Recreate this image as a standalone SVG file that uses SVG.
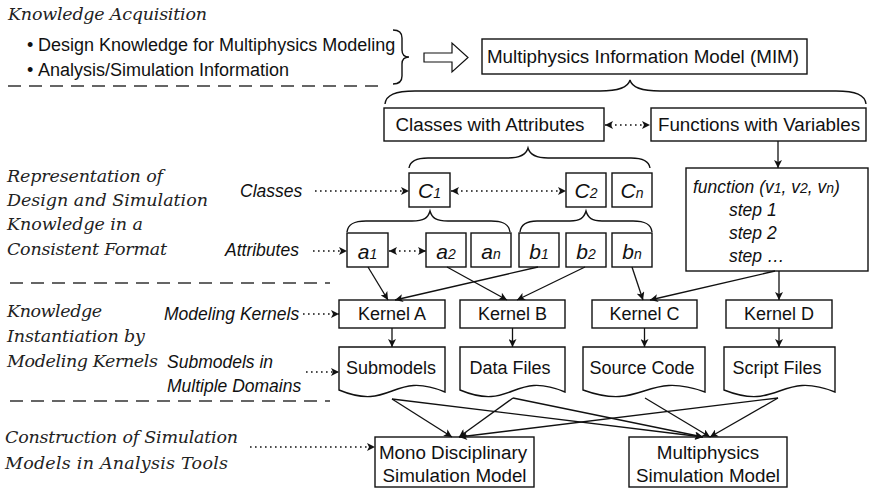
<svg xmlns="http://www.w3.org/2000/svg" width="869" height="489" viewBox="0 0 869 489">
  <style>
    .box { fill: #fff; stroke: #111; stroke-width: 1.4; }
    .ln { fill: none; stroke: #111; stroke-width: 1.3; }
    .dot { fill: none; stroke: #111; stroke-width: 1.4; stroke-dasharray: 1.6 3.4; }
    .dash { fill: none; stroke: #333; stroke-width: 1.3; stroke-dasharray: 13 8; }
    .brace { fill: none; stroke: #111; stroke-width: 1.4; }
    .t { font-family: "Liberation Sans", Arial, sans-serif; font-size: 18px; fill: #111; }
    .tl { font-family: "Liberation Sans", Arial, sans-serif; font-size: 18.8px; fill: #111; }
    .ti { font-family: "Liberation Sans", Arial, sans-serif; font-size: 17.5px; font-style: italic; fill: #111; }
    .var { font-family: "Liberation Sans", Arial, sans-serif; font-size: 21px; font-style: italic; fill: #111; }
    .sub { font-size: 14px; }
    .h { font-family: "DejaVu Serif", "Liberation Serif", serif; font-size: 17.5px; font-style: italic; fill: #222; }
    .m { text-anchor: middle; }
  </style>
  <defs>
    <marker id="ah" viewBox="0 0 10 10" refX="10" refY="5" markerWidth="9" markerHeight="8" markerUnits="userSpaceOnUse" orient="auto-start-reverse">
      <path d="M0,0 L10,5 L0,10 L2.5,5 Z" fill="#111"/>
    </marker>
  </defs>
  <rect width="869" height="489" fill="#fff"/>

  <!-- stage headings -->
  <g id="headings">
    <text class="h" x="8" y="20" textLength="199" lengthAdjust="spacing">Knowledge Acquisition</text>
    <text class="h" x="7" y="182" textLength="156" lengthAdjust="spacing">Representation of</text>
    <text class="h" x="7" y="206" textLength="201" lengthAdjust="spacing">Design and Simulation</text>
    <text class="h" x="7" y="230" textLength="136" lengthAdjust="spacing">Knowledge in a</text>
    <text class="h" x="7" y="255" textLength="160" lengthAdjust="spacing">Consistent Format</text>
    <text class="h" x="7" y="317" textLength="95" lengthAdjust="spacing">Knowledge</text>
    <text class="h" x="7" y="342" textLength="138" lengthAdjust="spacing">Instantiation by</text>
    <text class="h" x="7" y="367" textLength="151" lengthAdjust="spacing">Modeling Kernels</text>
    <text class="h" x="5" y="443" textLength="233" lengthAdjust="spacing">Construction of Simulation</text>
    <text class="h" x="5" y="469" textLength="223" lengthAdjust="spacing">Models in Analysis Tools</text>
  </g>

  <!-- sources of knowledge -->
  <g id="sources">
    <text class="t" x="27" y="51" font-size="13">•</text>
    <text class="t" x="38" y="51" font-size="16.8">Design Knowledge for Multiphysics Modeling</text>
    <text class="t" x="27" y="76" font-size="13">•</text>
    <text class="t" x="38" y="76" font-size="16.8">Analysis/Simulation Information</text>
  </g>

  <!-- stage separators -->
  <g id="separators">
    <line class="dash" x1="8" y1="86" x2="378" y2="86"/>
    <line class="dash" x1="10" y1="283" x2="330" y2="283"/>
    <line class="dash" x1="10" y1="401" x2="330" y2="401"/>
  </g>

  <!-- side labels -->
  <g id="labels">
    <text class="ti" x="240" y="197">Classes</text>
    <text class="ti" x="225" y="256">Attributes</text>
    <text class="ti" x="164" y="320">Modeling Kernels</text>
    <text class="ti" x="167" y="368">Submodels in</text>
    <text class="ti" x="167" y="392">Multiple Domains</text>
  </g>

  <!-- braces -->
  <g id="braces">
    <path class="brace" d="M393,30 C400,30 402,33 402,38 V50 C402,54 404,57 409,57 C404,57 402,60 402,64 V76 C402,81 400,84 393,84"/>
    <path class="brace" d="M385,104 C386,95 395,91 415,91 H600 C618,91 628,88 630,80 C632,88 642,91 660,91 H836 C856,91 865,95 866,104"/>
    <path class="brace" d="M409,168 C410,161 416,158 428,158 H508 C520,158 526,155 528,148 C530,155 536,158 548,158 H631 C643,158 649,161 650,168"/>
    <path class="brace" d="M347,232 C348,224 354,221 366,221 H412 C424,221 428,218 430,211 C432,218 436,221 448,221 H491 C503,221 509,224 510,232"/>
    <path class="brace" d="M520,232 C521,224 527,221 537,221 H570 C580,221 584,218 586,211 C588,218 592,221 602,221 H633 C645,221 651,224 652,232"/>
  </g>

  <g id="knowledge-arrow">
    <polygon points="424,53 452,53 452,43 468,57.5 452,72 452,62 424,62" fill="#fff" stroke="#111" stroke-width="1.2"/>
  </g>

  <g id="mim">
    <rect class="box" x="482" y="39" width="325" height="35"/>
    <text class="tl m" x="643" y="63">Multiphysics Information Model (MIM)</text>
  </g>
  <g id="classes-attrs">
    <rect class="box" x="384" y="108" width="220" height="33"/>
    <text class="tl m" x="490" y="131">Classes with Attributes</text>
  </g>
  <g id="functions-vars">
    <rect class="box" x="651" y="108" width="215" height="33"/>
    <text class="tl m" x="759" y="131">Functions with Variables</text>
  </g>

  <g id="c1">
    <rect class="box" x="409" y="173" width="41" height="34"/>
    <text class="var m" x="429.5" y="198">C<tspan class="sub">1</tspan></text>
  </g>
  <g id="c2">
    <rect class="box" x="566" y="173" width="40" height="34"/>
    <text class="var m" x="586" y="198">C<tspan class="sub">2</tspan></text>
  </g>
  <g id="cn">
    <rect class="box" x="612" y="173" width="40" height="34"/>
    <text class="var m" x="632" y="198">C<tspan class="sub">n</tspan></text>
  </g>

  <g id="a1">
    <rect class="box" x="347" y="233" width="41" height="34"/>
    <text class="var m" x="367.5" y="259">a<tspan class="sub">1</tspan></text>
  </g>
  <g id="a2">
    <rect class="box" x="426" y="233" width="40" height="34"/>
    <text class="var m" x="446" y="259">a<tspan class="sub">2</tspan></text>
  </g>
  <g id="an">
    <rect class="box" x="471" y="233" width="40" height="34"/>
    <text class="var m" x="491" y="259">a<tspan class="sub">n</tspan></text>
  </g>
  <g id="b1">
    <rect class="box" x="519" y="233" width="40" height="34"/>
    <text class="var m" x="539" y="259">b<tspan class="sub">1</tspan></text>
  </g>
  <g id="b2">
    <rect class="box" x="566" y="233" width="40" height="34"/>
    <text class="var m" x="586" y="259">b<tspan class="sub">2</tspan></text>
  </g>
  <g id="bn">
    <rect class="box" x="612" y="233" width="40" height="34"/>
    <text class="var m" x="632" y="259">b<tspan class="sub">n</tspan></text>
  </g>

  <g id="function-def">
    <rect class="box" x="686" y="168" width="182" height="103"/>
    <text class="ti" x="693" y="193">function (v<tspan class="sub">1</tspan>, v<tspan class="sub">2</tspan>, v<tspan class="sub">n</tspan>)</text>
    <text class="ti" x="729" y="216">step 1</text>
    <text class="ti" x="729" y="239">step 2</text>
    <text class="ti" x="729" y="262">step …</text>
  </g>

  <g id="kernel-a">
    <rect class="box" x="339" y="300" width="106" height="28"/>
    <text class="t m" x="392" y="320">Kernel A</text>
  </g>
  <g id="kernel-b">
    <rect class="box" x="460" y="300" width="105" height="28"/>
    <text class="t m" x="512.5" y="320">Kernel B</text>
  </g>
  <g id="kernel-c">
    <rect class="box" x="592" y="300" width="105" height="28"/>
    <text class="t m" x="644.5" y="320">Kernel C</text>
  </g>
  <g id="kernel-d">
    <rect class="box" x="726" y="300" width="106" height="28"/>
    <text class="t m" x="779" y="320">Kernel D</text>
  </g>

  <g id="doc-submodels">
    <path class="box" d="M339,347 H445 V392 C392,370 392,412 339,390 Z"/>
    <text class="t m" x="391" y="374">Submodels</text>
  </g>
  <g id="doc-data">
    <path class="box" d="M460,347 H565 V392 C512.5,370 512.5,412 460,390 Z"/>
    <text class="t m" x="510" y="374">Data Files</text>
  </g>
  <g id="doc-source">
    <path class="box" d="M583,347 H705 V392 C644,370 644,412 583,390 Z"/>
    <text class="t m" x="642" y="374">Source Code</text>
  </g>
  <g id="doc-script">
    <path class="box" d="M724,347 H835 V392 C779.5,370 779.5,412 724,390 Z"/>
    <text class="t m" x="777" y="374">Script Files</text>
  </g>

  <g id="sim-mono">
    <rect class="box" x="375" y="437" width="159" height="50"/>
    <text class="tl m" x="453" y="459">Mono Disciplinary</text>
    <text class="tl m" x="454.5" y="482">Simulation Model</text>
  </g>
  <g id="sim-multi">
    <rect class="box" x="629" y="437" width="158" height="50"/>
    <text class="tl m" x="708" y="459">Multiphysics</text>
    <text class="tl m" x="708" y="482">Simulation Model</text>
  </g>

  <!-- connectors -->
  <g id="connectors">
    <!-- dotted references -->
    <line class="dot" x1="605" y1="125" x2="650" y2="125" marker-start="url(#ah)" marker-end="url(#ah)"/>
    <line class="dot" x1="315" y1="191" x2="409" y2="191" marker-end="url(#ah)"/>
    <line class="dot" x1="451" y1="191" x2="566" y2="191" marker-start="url(#ah)" marker-end="url(#ah)"/>
    <line class="dot" x1="313" y1="251" x2="347" y2="251" marker-end="url(#ah)"/>
    <line class="dot" x1="389" y1="251" x2="426" y2="251" marker-start="url(#ah)" marker-end="url(#ah)"/>
    <line class="dot" x1="303" y1="314" x2="339" y2="314" marker-end="url(#ah)"/>
    <line class="dot" x1="306" y1="372" x2="339" y2="372" marker-end="url(#ah)"/>
    <line class="dot" x1="250" y1="447" x2="375" y2="447" marker-end="url(#ah)"/>

    <!-- definitions to kernels -->
    <line class="ln" x1="778" y1="141" x2="778" y2="168" marker-end="url(#ah)"/>
    <line class="ln" x1="368" y1="267" x2="388" y2="300" marker-end="url(#ah)"/>
    <line class="ln" x1="538" y1="267" x2="395" y2="300" marker-end="url(#ah)"/>
    <line class="ln" x1="447" y1="267" x2="507" y2="300" marker-end="url(#ah)"/>
    <line class="ln" x1="585" y1="267" x2="517" y2="300" marker-end="url(#ah)"/>
    <line class="ln" x1="632" y1="267" x2="643" y2="300" marker-end="url(#ah)"/>
    <line class="ln" x1="775" y1="271" x2="650" y2="300" marker-end="url(#ah)"/>
    <line class="ln" x1="779" y1="271" x2="779" y2="300" marker-end="url(#ah)"/>

    <!-- kernels to generated files -->
    <line class="ln" x1="392" y1="328" x2="392" y2="347" marker-end="url(#ah)"/>
    <line class="ln" x1="512.5" y1="328" x2="512.5" y2="347" marker-end="url(#ah)"/>
    <line class="ln" x1="644.5" y1="328" x2="644.5" y2="347" marker-end="url(#ah)"/>
    <line class="ln" x1="779" y1="328" x2="779" y2="347" marker-end="url(#ah)"/>

    <!-- files to simulation models -->
    <line class="ln" x1="392" y1="399" x2="452" y2="437" marker-end="url(#ah)"/>
    <line class="ln" x1="392" y1="399" x2="703" y2="437" marker-end="url(#ah)"/>
    <line class="ln" x1="513" y1="398" x2="459" y2="437" marker-end="url(#ah)"/>
    <line class="ln" x1="513" y1="398" x2="703" y2="437" marker-end="url(#ah)"/>
    <line class="ln" x1="645" y1="398" x2="710" y2="437" marker-end="url(#ah)"/>
    <line class="ln" x1="778" y1="398" x2="459" y2="437" marker-end="url(#ah)"/>
    <line class="ln" x1="778" y1="398" x2="710" y2="437" marker-end="url(#ah)"/>
  </g>
</svg>
